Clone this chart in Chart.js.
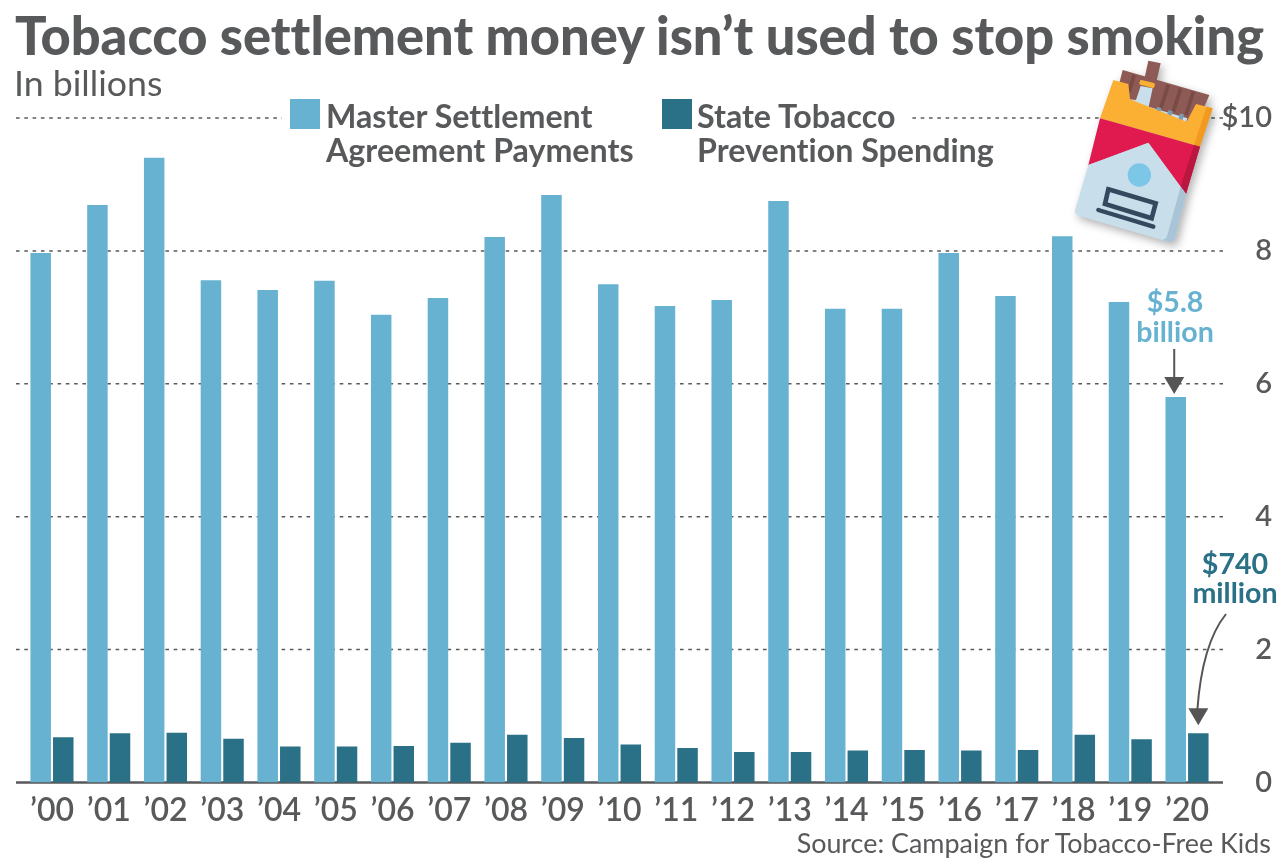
<!DOCTYPE html>
<html>
<head>
<meta charset="utf-8">
<title>Tobacco settlement money</title>
<script src="https://cdn.jsdelivr.net/npm/chart.js@4"></script>
<style>
  html, body { margin: 0; background: #fff; }
  #wrap { position: relative; width: 1280px; height: 862px; overflow: hidden; font-family: Lato, sans-serif; color: #58595b; font-variant-ligatures: none; }
  canvas { position: absolute; left: 0; top: 0; }
  h1 { position: absolute; left: 15px; top: 5px; margin: 0; font-size: 52.4px; line-height: 60px; font-weight: 900; white-space: nowrap; }
  #sub { position: absolute; left: 14px; top: 62px; font-size: 35.7px; line-height: 42px; }
  #legend { position: absolute; left: 282px; top: 96px; width: 630px; height: 74px; background: #fff; }
  .swatch { position: absolute; top: 3px; width: 30px; height: 30px; }
  .key { position: absolute; top: 3px; font-size: 32.2px; line-height: 34px; font-weight: 700; white-space: nowrap; }
  #source { position: absolute; right: 9px; top: 827px; font-size: 26.9px; line-height: 32px; white-space: nowrap; }
  #pack { position: absolute; left: 1060px; top: 50px; width: 220px; height: 210px; filter: drop-shadow(3px 4px 4px rgba(0,0,0,.3)); }
</style>
</head>
<body>
<div id="wrap">
  <canvas id="chart" width="1280" height="862"></canvas>
  <h1>Tobacco settlement money isn’t used to stop smoking</h1>
  <div id="sub">In billions</div>
  <div id="legend">
    <div class="swatch" style="left:8px;background:#66b2d0"></div>
    <div class="key" style="left:44px">Master Settlement<br>Agreement Payments</div>
    <div class="swatch" style="left:380px;background:#2a7087"></div>
    <div class="key" style="left:415px">State Tobacco<br>Prevention Spending</div>
  </div>
  <svg id="pack" viewBox="0 0 660 630">
    <polygon points="265,32 302,40 288,100 252,92" fill="#8d5a55"/>
    <polygon points="188,60 448,135 410,225 165,150" fill="#8d5a55"/>
    <path d="M222,75 L208,125 M325,105 L302,175 M362,115 L340,185 M400,125 L378,195" stroke="#7a4a46" stroke-width="11"/>
    <polygon points="208,148 228,150 242,108 278,115 266,170 382,205 378,220 208,170" fill="#c9dfeb"/>
    <rect x="238" y="94" width="46" height="15" rx="4" transform="rotate(14 260 103)" fill="#fbb034"/>
    <path d="M298,172 L291,198 M332,182 L325,208 M366,192 L359,218" stroke="#7d9db3" stroke-width="13"/>
    <polygon points="160,90 205,102 210,148 380,215 408,162 458,175 420,290 120,205" fill="#fbb034"/>
    <polygon points="440,170 458,175 420,290 402,285" fill="#f19a1f"/>
    <polygon points="120,205 420,290 378,432 265,278 85,345" fill="#e0194f"/>
    <polygon points="402,285 420,290 378,432 362,410" fill="#b9173f"/>
    <path d="M85,345 L265,278 L378,432 L345,565 Q340,580 325,575 L55,497 Q42,492 46,478 Z" fill="#c8deeb"/>
    <path d="M362,410 L378,432 L345,565 Q340,580 325,575 L305,569 Q318,570 322,555 Z" fill="#a9c4d6"/>
    <circle cx="238" cy="375" r="35" fill="#7cc6e8"/>
    <polygon points="145,418 287,460 275,505 135,462" fill="none" stroke="#34495e" stroke-width="14"/>
    <line x1="115" y1="480" x2="280" y2="530" stroke="#34495e" stroke-width="13" stroke-linecap="round"/>
  </svg>
  <div id="source">Source: Campaign for Tobacco-Free Kids</div>
</div>

<script>
const years = ["’00", "’01", "’02", "’03", "’04", "’05", "’06", "’07", "’08", "’09", "’10", "’11", "’12", "’13", "’14", "’15", "’16", "’17", "’18", "’19", "’20"];
const settlementPayments = [7.97, 8.69, 9.4, 7.56, 7.41, 7.55, 7.04, 7.29, 8.21, 8.84, 7.5, 7.17, 7.26, 8.75, 7.13, 7.13, 7.97, 7.32, 8.22, 7.23, 5.8];
const preventionSpending = [0.68, 0.74, 0.75, 0.66, 0.54, 0.54, 0.55, 0.6, 0.72, 0.67, 0.57, 0.52, 0.46, 0.46, 0.48, 0.49, 0.48, 0.49, 0.72, 0.65, 0.74];

const lightBlue = "#66b2d0";
const darkBlue = "#2a7087";
const gray = "#58595b";

// dashed grid and solid baseline run past the plot area on both sides
const gridLines = {
  id: "gridLines",
  beforeDatasetsDraw(chart) {
    const { ctx, scales } = chart;
    ctx.save();
    scales.y.ticks.forEach((tick) => {
      const y = scales.y.getPixelForValue(tick.value);
      ctx.beginPath();
      ctx.moveTo(16, y);
      ctx.lineTo(1223, y);
      ctx.strokeStyle = gray;
      if (tick.value === 0) {
        ctx.setLineDash([]);
        ctx.lineWidth = 2.4;
      } else {
        ctx.setLineDash([3.6, 4.7]);
        ctx.lineWidth = 1.5;
      }
      ctx.stroke();
    });
    ctx.restore();
  },
};

function arrowHead(ctx, x, tipY) {
  ctx.beginPath();
  ctx.moveTo(x - 10, tipY - 17);
  ctx.lineTo(x + 10, tipY - 17);
  ctx.lineTo(x, tipY);
  ctx.closePath();
  ctx.fill();
}

// callouts for the 2020 bars
const callouts = {
  id: "callouts",
  afterDatasetsDraw(chart) {
    const { ctx } = chart;
    const last = years.length - 1;
    const lightBar = chart.getDatasetMeta(0).data[last];
    const darkBar = chart.getDatasetMeta(1).data[last];

    ctx.save();
    ctx.textAlign = "center";
    ctx.textBaseline = "middle";
    ctx.font = "700 28.6px Lato";
    ctx.fillStyle = lightBlue;
    ctx.fillText("$5.8", 1175, 303);
    ctx.fillText("billion", 1175, 333);
    ctx.fillStyle = darkBlue;
    ctx.fillText("$740", 1235, 565);
    ctx.fillText("million", 1235, 594);

    ctx.strokeStyle = "#555";
    ctx.fillStyle = "#555";
    ctx.lineWidth = 2;

    const tipA = lightBar.y - 3;
    ctx.beginPath();
    ctx.moveTo(lightBar.x - 1.5, 349);
    ctx.lineTo(lightBar.x - 1.5, tipA - 15);
    ctx.stroke();
    arrowHead(ctx, lightBar.x - 1.5, tipA);

    const tipB = darkBar.y - 8;
    ctx.beginPath();
    ctx.moveTo(1226, 614);
    ctx.quadraticCurveTo(1202, 644, darkBar.x - 1, tipB - 15);
    ctx.stroke();
    arrowHead(ctx, darkBar.x, tipB);
    ctx.restore();
  },
};

new Chart(document.getElementById("chart"), {
  type: "bar",
  data: {
    labels: years,
    datasets: [
      { label: "Master Settlement Agreement Payments", data: settlementPayments, backgroundColor: lightBlue },
      { label: "State Tobacco Prevention Spending", data: preventionSpending, backgroundColor: darkBlue },
    ],
  },
  options: {
    responsive: false,
    animation: false,
    categoryPercentage: 0.796,
    barPercentage: 0.907,
    layout: { padding: { left: 23.6, right: 8, top: 118, bottom: 0 } },
    plugins: { legend: { display: false }, title: { display: false }, tooltip: { enabled: false } },
    scales: {
      x: {
        grid: { display: false },
        border: { display: false },
        ticks: { color: gray, font: { family: "Lato", size: 32, weight: "600" }, padding: 1, maxRotation: 0, autoSkip: false },
        afterFit(scale) {
          scale.height = 79.5;
        },
      },
      y: {
        position: "right",
        min: 0,
        max: 10,
        grid: { display: false },
        border: { display: false },
        ticks: {
          stepSize: 2,
          color: gray,
          crossAlign: "far",
          font: { family: "Lato", size: 29, weight: "600" },
          callback: (v) => (v === 10 ? "$10" : v),
        },
        afterFit(scale) {
          scale.width = 56.6;
        },
      },
    },
  },
  plugins: [gridLines, callouts],
});
</script>
</body>
</html>
